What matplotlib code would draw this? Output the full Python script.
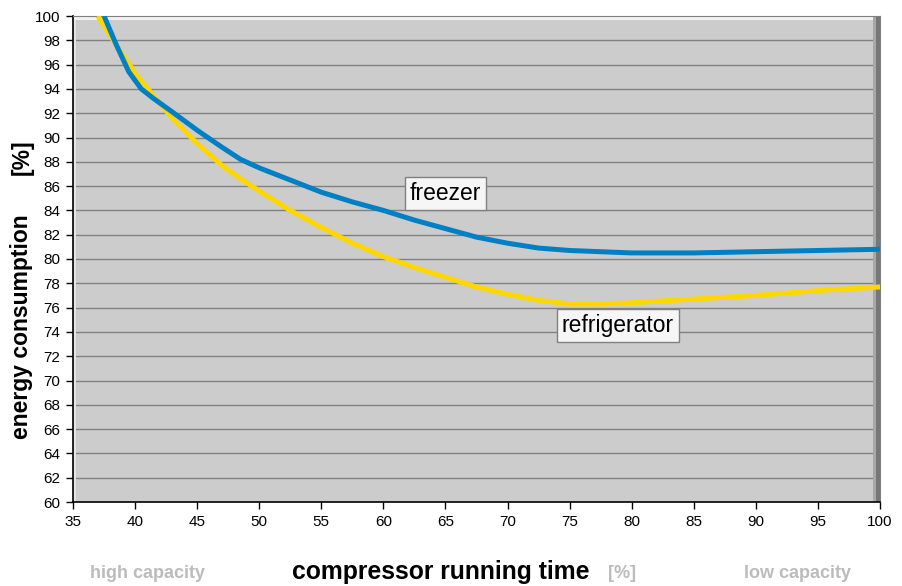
import matplotlib.pyplot as plt
from matplotlib.patches import Rectangle

plt.rcParams['font.family'] = ['Liberation Sans', 'DejaVu Sans']

# compressor running time [%] and energy consumption [%]
freezer_x = [37.5, 38.5, 39.5, 40.5, 41.5, 43, 45, 47, 48.5, 50, 52.5, 55, 57.5,
             60, 62.5, 65, 67.5, 70, 72.5, 75, 77.5, 80, 82.5, 85, 90, 95, 100]
freezer_y = [100.0, 97.6, 95.4, 94.0, 93.2, 92.1, 90.6, 89.2, 88.2, 87.5, 86.5,
             85.5, 84.7, 84.0, 83.2, 82.5, 81.8, 81.3, 80.9, 80.7, 80.6, 80.5,
             80.5, 80.5, 80.6, 80.7, 80.8]
fridge_x = [37.0, 38.5, 40, 41.5, 43, 45, 47, 48.5, 50, 52.5, 55, 57.5, 60,
            62.5, 65, 67.5, 70, 72.5, 75, 77.5, 80, 85, 90, 95, 100]
fridge_y = [100.0, 97.6, 95.3, 93.4, 91.6, 89.5, 87.7, 86.6, 85.6, 84.0, 82.6,
            81.3, 80.2, 79.3, 78.5, 77.7, 77.1, 76.6, 76.3, 76.3, 76.4, 76.7,
            77.0, 77.4, 77.7]

x_ticks = list(range(35, 101, 5))
y_ticks = list(range(60, 101, 2))

fig = plt.figure(figsize=(9.02, 5.86), dpi=100)
ax = fig.add_axes([73 / 902, 84 / 586, 807 / 902, 486 / 586])
ax.set_facecolor('#cccccc')

ax.set_xlim(35, 100)
ax.set_ylim(60, 100)
ax.set_xticks(x_ticks)
ax.set_yticks(y_ticks)
ax.tick_params(labelsize=11, length=5, width=1, colors='black', pad=4)
ax.grid(axis='y', color='#808080', linewidth=1)
ax.set_axisbelow(True)

# bevel of the plot frame
ax.add_patch(Rectangle((0.991, 0), 0.009, 1, transform=ax.transAxes,
                       facecolor='#a8a8a8', edgecolor='none', zorder=1))
ax.add_patch(Rectangle((0.995, 0), 0.005, 1, transform=ax.transAxes,
                       facecolor='#777777', edgecolor='none', zorder=1))
ax.add_patch(Rectangle((0, 0.992), 0.991, 0.008, transform=ax.transAxes,
                       facecolor='#f2f2f2', edgecolor='none', zorder=1))
ax.add_patch(Rectangle((0, 0), 0.004, 0.992, transform=ax.transAxes,
                       facecolor='#e4e4e4', edgecolor='none', zorder=1))

for side in ['top', 'right']:
    ax.spines[side].set_color('#808080')
for side in ['left', 'bottom']:
    ax.spines[side].set_color('black')
    ax.spines[side].set_linewidth(1.2)

ax.plot(fridge_x, fridge_y, color='#ffd700', linewidth=3.6, zorder=3,
        solid_capstyle='butt')
ax.plot(freezer_x, freezer_y, color='#0080c4', linewidth=3.6, zorder=4,
        solid_capstyle='butt')

box = dict(boxstyle='square,pad=0.22', facecolor='#f6f6f6', edgecolor='#808080',
           linewidth=1)
ax.text(65.0, 85.4, 'freezer', fontsize=16.5, ha='center', va='center',
        bbox=box, zorder=5)
ax.text(78.9, 74.5, 'refrigerator', fontsize=16.5, ha='center', va='center',
        bbox=box, zorder=5)

fig.text(22 / 902, 1 - 327 / 586, 'energy consumption', rotation=90,
         fontsize=16.5, fontweight='bold', ha='center', va='center')
fig.text(22 / 902, 1 - 157 / 586, '[%]', rotation=90, fontsize=16.5,
         fontweight='bold', ha='center', va='center')

fig.text(441 / 902, 14 / 586, 'compressor running time', fontsize=17.8,
         fontweight='bold', ha='center', va='center')
fig.text(622 / 902, 12 / 586, '[%]', fontsize=13, fontweight='bold',
         color='#bcbcbc', ha='center', va='center')
fig.text(147 / 902, 12 / 586, 'high capacity', fontsize=13, fontweight='bold',
         color='#bcbcbc', ha='center', va='center')
fig.text(797 / 902, 12 / 586, 'low capacity', fontsize=13, fontweight='bold',
         color='#bcbcbc', ha='center', va='center')

fig.savefig('out.png', dpi=100)
